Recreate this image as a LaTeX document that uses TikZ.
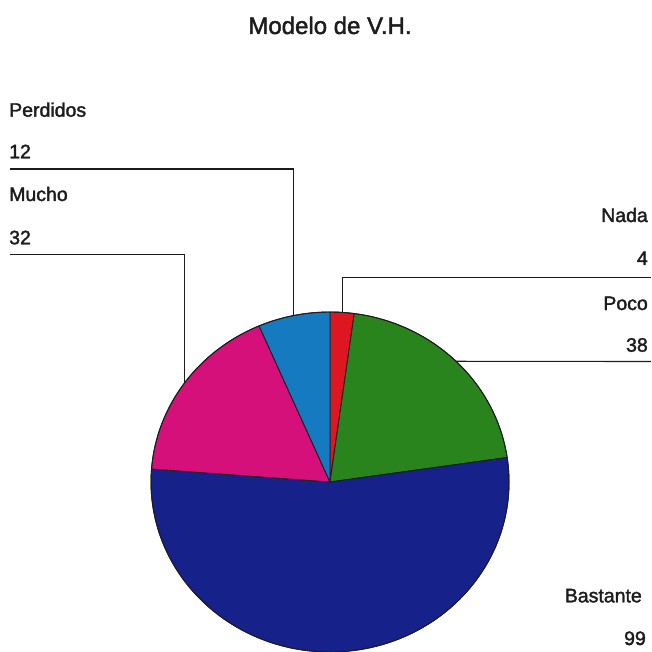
\documentclass[tikz,border=0pt]{standalone}
\usepackage{fontspec}
\setmainfont{Liberation Sans}
\newfontfamily\lblfont[FakeBold=1.8]{Liberation Sans}
\usetikzlibrary{calc}
\definecolor{cNada}{RGB}{222,22,34}
\definecolor{cPoco}{RGB}{42,132,30}
\definecolor{cBast}{RGB}{22,34,138}
\definecolor{cMucho}{RGB}{214,16,122}
\definecolor{cPerd}{RGB}{22,122,192}
\definecolor{ink}{RGB}{28,28,30}
\tikzset{
  wedge/.style={draw=ink, line width=0.9pt, line join=round},
  leader/.style={draw=ink, line width=1.1pt},
  lbl/.style={font=\lblfont\fontsize{19.5}{22}\selectfont, text=ink, inner sep=0pt},
  ttl/.style={font=\lblfont\fontsize{24}{28}\selectfont, text=ink, inner sep=0pt}
}
\begin{document}
\begin{tikzpicture}[x=1pt,y=1pt]
\useasboundingbox (0,0) rectangle (652,651);
\coordinate (c) at (330,169);
\def\rx{179}\def\ry{170}
% wedges
\fill[cNada,wedge] (c) -- ($(c)+(90:\rx pt and \ry pt)$) arc[start angle=90, end angle=82.216, x radius=\rx, y radius=\ry] -- cycle;
\fill[cPoco,wedge] (c) -- ($(c)+(82.216:\rx pt and \ry pt)$) arc[start angle=82.216, end angle=8.270, x radius=\rx, y radius=\ry] -- cycle;
\fill[cBast,wedge] (c) -- ($(c)+(8.270:\rx pt and \ry pt)$) arc[start angle=8.270, end angle=-184.379, x radius=\rx, y radius=\ry] -- cycle;
\fill[cMucho,wedge] (c) -- ($(c)+(-184.379:\rx pt and \ry pt)$) arc[start angle=-184.379, end angle=-246.649, x radius=\rx, y radius=\ry] -- cycle;
\fill[cPerd,wedge] (c) -- ($(c)+(-246.649:\rx pt and \ry pt)$) arc[start angle=-246.649, end angle=-270, x radius=\rx, y radius=\ry] -- cycle;
\draw[wedge] (c) ellipse[x radius=\rx, y radius=\ry];
% leader tips on the rim
\coordinate (tPerd) at ($(c)+(101.676:\rx pt and \ry pt)$);
\coordinate (tMucho) at ($(c)+(144.486:\rx pt and \ry pt)$);
\coordinate (tNada) at ($(c)+(86.108:\rx pt and \ry pt)$);
\coordinate (tPoco) at ($(c)+(45.243:\rx pt and \ry pt)$);
% leader free ends
\coordinate (ePerd) at (10,482);
\coordinate (eMucho) at (10,396.7);
\coordinate (eNada) at (651,373.3);
\coordinate (ePoco) at (651,289.5);
\draw[leader] (ePerd) -| (tPerd);
\draw[leader] (eMucho) -| (tMucho);
\draw[leader] (eNada) -| (tNada);
\draw[leader] (ePoco) -- (tPoco);
% title
\node[ttl, anchor=base] (title) at (330,617) {Modelo de V.H.};
% labels
\node[lbl, anchor=base west] (lPerd) at (9,534.3) {Perdidos};
\node[lbl, anchor=base west] (vPerd) at (9,492.7) {12};
\node[lbl, anchor=base west] (lMucho) at (9,450) {Mucho};
\node[lbl, anchor=base west] (vMucho) at (9,406.7) {32};
\node[lbl, anchor=base east] (lNada) at (648,429) {Nada};
\node[lbl, anchor=base east] (vNada) at (648,386) {4};
\node[lbl, anchor=base east] (lPoco) at (648,341) {Poco};
\node[lbl, anchor=base east] (vPoco) at (648,299.3) {38};
\node[lbl, anchor=base east] (lBast) at (642,48.7) {Bastante};
\node[lbl, anchor=base east] (vBast) at (646,6) {99};
\end{tikzpicture}
\end{document}
